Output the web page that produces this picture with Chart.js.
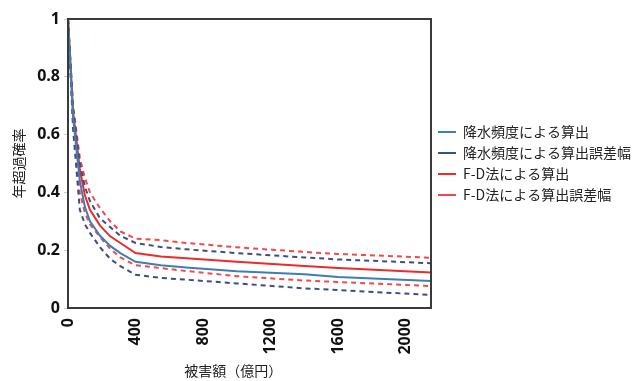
<!DOCTYPE html>
<html>
<head>
<meta charset="utf-8">
<script src="https://cdn.jsdelivr.net/npm/chart.js@4"></script>
<style>
  html, body { margin: 0; padding: 0; background: #fff; }
  #wrap { width: 637px; height: 381px; }
</style>
</head>
<body>
<div id="wrap"><canvas id="chart" width="637" height="381"></canvas></div>
<script>
// damage amount (億円)
const damage = [0, 30, 70, 100, 130, 190, 250, 310, 400, 550, 700, 1000, 1400, 1600, 2150];
const xTicks = [0, 400, 800, 1200, 1600, 2000];
const yTicks = [0, 0.2, 0.4, 0.6, 0.8, 1];

// annual exceedance probability
const rainFreq      = [1, 0.66, 0.44, 0.35, 0.30, 0.25, 0.215, 0.19, 0.16, 0.148, 0.14, 0.127, 0.117, 0.107, 0.093];
const rainFreqUpper = [1, 0.69, 0.50, 0.42, 0.37, 0.31, 0.28, 0.25, 0.225, 0.211, 0.203, 0.19, 0.175, 0.168, 0.155];
const rainFreqLower = [1, 0.62, 0.34, 0.29, 0.26, 0.21, 0.17, 0.145, 0.115, 0.104, 0.098, 0.085, 0.068, 0.062, 0.045];
const fdMethod      = [1, 0.68, 0.48, 0.39, 0.34, 0.285, 0.248, 0.225, 0.19, 0.178, 0.172, 0.16, 0.145, 0.138, 0.123];
const fdUpper       = [1, 0.70, 0.52, 0.45, 0.40, 0.345, 0.30, 0.265, 0.24, 0.235, 0.225, 0.21, 0.194, 0.187, 0.174];
const fdLower       = [1, 0.64, 0.40, 0.33, 0.29, 0.245, 0.205, 0.175, 0.148, 0.138, 0.128, 0.11, 0.095, 0.09, 0.076];

const seriesNames = ['降水頻度による算出', '降水頻度による算出誤差幅', 'F-D法による算出', 'F-D法による算出誤差幅'];
const xTitle = '被害額（億円）';
const yTitle = '年超過確率';

const blue = '#3d7fb3';
const navy = '#404d85';
const red = '#ee2a2a';
const pink = '#f24a4a';

const pts = function (ys) {
	return damage.map((x, i) => ({ x: x, y: ys[i] }));
};

const line = function (label, ys, color, dashed, hidden) {
	return {
		label: label,
		data: pts(ys),
		borderColor: color,
		backgroundColor: color,
		borderWidth: 2,
		borderDash: dashed ? [5, 4] : [],
		pointRadius: 0,
		tension: 0,
		hideInLegend: hidden,
	};
};

const jpFont = '"Noto Sans CJK JP", sans-serif';
const tickFont = { family: '"Open Sans", "DejaVu Sans", sans-serif', size: 16, weight: 'bold' };

// plot frame + x axis title (title sits a bit left of centre in the original)
const frame = {
	id: 'frame',
	afterDatasetsDraw(chart) {
		const a = chart.chartArea;
		const ctx = chart.ctx;
		ctx.save();
		ctx.strokeStyle = '#3a3a3a';
		ctx.lineWidth = 2;
		ctx.strokeRect(a.left, a.top, a.right - a.left, a.bottom - a.top);
		ctx.fillStyle = '#222';
		ctx.font = '14px ' + jpFont;
		ctx.textAlign = 'center';
		ctx.textBaseline = 'middle';
		ctx.fillText(xTitle, a.left + (a.right - a.left) * 0.455, chart.height - 10);
		ctx.restore();
	},
};

const config = {
	type: 'line',
	data: {
		datasets: [
			line(seriesNames[0], rainFreq, blue, false, false),
			line(seriesNames[1], rainFreqUpper, navy, true, false),
			line(seriesNames[1], rainFreqLower, navy, true, true),
			line(seriesNames[2], fdMethod, red, false, false),
			line(seriesNames[3], fdUpper, pink, true, false),
			line(seriesNames[3], fdLower, pink, true, true),
		],
	},
	options: {
		responsive: false,
		animation: false,
		layout: { padding: { top: 19, right: 0, left: 10, bottom: 0 } },
		plugins: {
			legend: {
				position: 'right',
				fullSize: false,
				labels: {
					usePointStyle: true,
					pointStyle: 'line',
					pointStyleWidth: 18,
					boxHeight: 14,
					padding: 7,
					color: '#222',
					font: { family: jpFont, size: 14 },
					filter: (item, data) => !data.datasets[item.datasetIndex].hideInLegend,
				},
			},
			tooltip: { enabled: false },
		},
		scales: {
			x: {
				type: 'linear',
				min: 0,
				max: 2150,
				border: { display: false },
				grid: { display: false },
				afterBuildTicks: (s) => { s.ticks = xTicks.map((v) => ({ value: v })); },
				ticks: {
					autoSkip: false,
					minRotation: 90,
					maxRotation: 90,
					color: '#111',
					font: tickFont,
					padding: 2,
					callback: (v) => String(v),
				},
				afterFit: (s) => { s.height = 73; },
			},
			y: {
				min: 0,
				max: 1,
				border: { display: false },
				grid: { drawOnChartArea: false, color: '#ccc', tickLength: 4 },
				afterBuildTicks: (s) => { s.ticks = yTicks.map((v) => ({ value: v })); },
				ticks: { color: '#111', font: tickFont, padding: 4, callback: (v) => String(+v.toFixed(1)) },
				title: { display: true, text: yTitle, color: '#222', font: { family: jpFont, size: 14 }, padding: 0 },
				afterFit: (s) => { s.width = 58; },
			},
		},
	},
	plugins: [
		frame,
		{
			id: 'legendWidth',
			beforeInit(chart) {
				// keep the plot box the same width as the reference
				const lg = chart.legend;
				if (lg) {
					const fit = lg.fit.bind(lg);
					lg.fit = function () { fit(); this.width = 206; };
				}
			},
		},
	],
};

const init = function () {
	const ctx = document.querySelector('#chart');
	const myChart = new Chart(ctx, config);
};
document.addEventListener('DOMContentLoaded', init);
</script>
</body>
</html>
